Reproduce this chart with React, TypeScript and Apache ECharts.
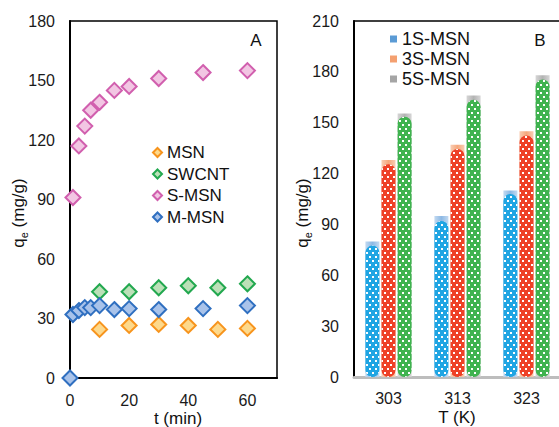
import React, { useEffect, useRef } from 'react';
import * as echarts from 'echarts';

// Panel A: adsorption kinetics
const tMSN = [10, 20, 30, 40, 50, 60];
const qMSN = [24.5, 26.5, 27, 26.5, 24.5, 25];
const tSWCNT = [10, 20, 30, 40, 50, 60];
const qSWCNT = [43.5, 43.5, 45.5, 46.5, 45.5, 47.5];
const tSMSN = [1, 3, 5, 7, 10, 15, 20, 30, 45, 60];
const qSMSN = [91, 117, 127, 135, 139, 145, 147, 151, 154, 155];
const tMMSN = [0, 1, 3, 5, 7, 10, 15, 20, 30, 45, 60];
const qMMSN = [0, 32, 34, 35.5, 35.5, 36.5, 34.5, 35, 34.5, 35, 36.5];

// Panel B: temperature effect
const temps = ['303', '313', '323'];
const outer1S = [80, 95, 110];
const outer3S = [128, 137, 145];
const outer5S = [155.5, 166, 178];
const inner1S = [77.5, 92, 108];
const inner3S = [125.5, 134.5, 142.5];
const inner5S = [153.5, 163.5, 175.5];

const FONT = 'Liberation Sans, Arial, sans-serif';

const zip = (xs: number[], ys: number[]) => xs.map((x, i) => [x, ys[i]]);

const grad = (edge: string, mid: string) =>
  new echarts.graphic.LinearGradient(0, 0, 1, 0, [
    { offset: 0, color: edge },
    { offset: 0.5, color: mid },
    { offset: 1, color: edge },
  ]);

const decal = {
  symbol: 'rect',
  symbolSize: 1,
  color: '#ffffff',
  dashArrayX: [[1.5, 3.5], [0, 2.5, 1.5, 1]],
  dashArrayY: [1.5, 1.6],
};

const axisNameRich = {
  a: { fontFamily: FONT, fontSize: 17, lineHeight: 22 },
  b: { fontFamily: FONT, fontSize: 11, lineHeight: 22, verticalAlign: 'bottom' },
};

export default function App() {
  const ref = useRef<HTMLDivElement>(null);
  useEffect(() => {
    if (!ref.current) return;
    const chart = echarts.init(ref.current, undefined, { renderer: 'svg' });
    const scatter = (name: string, data: number[][], border: string, fill: string) => ({
      name,
      type: 'scatter',
      xAxisIndex: 0,
      yAxisIndex: 0,
      symbol: 'diamond',
      symbolSize: 15,
      itemStyle: { color: fill, borderColor: border, borderWidth: 2, opacity: 1 },
      data,
    });
    const outerBar = (name: string, data: number[], edge: string, mid: string) => ({
      name,
      type: 'bar',
      xAxisIndex: 1,
      yAxisIndex: 1,
      barWidth: 14,
      barGap: '15%',
      itemStyle: { color: grad(edge, mid) },
      data,
    });
    const innerBar = (name: string, data: number[], color: string) => ({
      name,
      type: 'bar',
      xAxisIndex: 2,
      yAxisIndex: 1,
      barWidth: 14,
      barGap: '15%',
      itemStyle: { color, borderRadius: 7, decal },
      data,
    });
    const labelStyle = { fontFamily: FONT, fontSize: 16, color: '#1a1a1a' };
    chart.setOption({
      animation: false,
      backgroundColor: '#ffffff',
      textStyle: { fontFamily: FONT },
      grid: [
        { left: 70, top: 21, width: 207, height: 357, show: true, borderColor: '#000', borderWidth: 1.5 },
        { left: 354, top: 21, width: 207, height: 356, show: true, borderColor: '#000', borderWidth: 1.5 },
      ],
      xAxis: [
        {
          type: 'value', gridIndex: 0, min: 0, max: 70, interval: 20,
          axisLine: { show: true, onZero: false, lineStyle: { color: '#000', width: 2 } },
          axisTick: { show: false }, splitLine: { show: false },
          axisLabel: { ...labelStyle, margin: 14, showMaxLabel: false },
        },
        {
          type: 'category', gridIndex: 1, data: temps,
          axisLine: { show: true, lineStyle: { color: '#bdbdbd', width: 3 } },
          axisTick: { show: false },
          axisLabel: { ...labelStyle, margin: 13 },
        },
        { type: 'category', gridIndex: 1, data: temps, show: false },
      ],
      yAxis: [
        {
          type: 'value', gridIndex: 0, min: 0, max: 180, interval: 30,
          axisLine: { show: true, lineStyle: { color: '#000', width: 2 } },
          axisTick: { show: false }, splitLine: { show: false },
          axisLabel: { ...labelStyle, margin: 15 },
        },
        {
          type: 'value', gridIndex: 1, min: 0, max: 210, interval: 30,
          axisLine: { show: true, lineStyle: { color: '#000', width: 2 } },
          axisTick: { show: false }, splitLine: { show: false },
          axisLabel: { ...labelStyle, margin: 15 },
        },
      ],
      legend: [
        {
          orient: 'vertical', left: 152, top: 143, padding: 0, itemWidth: 9, itemHeight: 9, itemGap: 2.5,
          icon: 'diamond',
          textStyle: { fontFamily: FONT, fontSize: 17, color: '#111', lineHeight: 19 },
          data: ['MSN', 'SWCNT', 'S-MSN', 'M-MSN'],
        },
        {
          orient: 'vertical', left: 390, top: 30, padding: 0, itemWidth: 7, itemHeight: 7, itemGap: 2,
          icon: 'rect',
          textStyle: { fontFamily: FONT, fontSize: 18, color: '#111', lineHeight: 17 },
          data: [
            { name: '1S-MSN', itemStyle: { color: '#5b9bd5' } },
            { name: '3S-MSN', itemStyle: { color: '#f4a070' } },
            { name: '5S-MSN', itemStyle: { color: '#a5a5a5' } },
          ],
        },
      ],
      graphic: [
        { type: 'text', x: 256, y: 40, style: { text: 'A', fontFamily: FONT, fontSize: 17, fill: '#111', align: 'center', verticalAlign: 'middle' } },
        { type: 'text', x: 540, y: 40, style: { text: 'B', fontFamily: FONT, fontSize: 17, fill: '#111', align: 'center', verticalAlign: 'middle' } },
        {
          type: 'text', x: 18, y: 213, rotation: Math.PI / 2,
          style: { text: '{a|q}{b|e}{a| (mg/g)}', align: 'center', verticalAlign: 'middle', fill: '#111', rich: axisNameRich },
        },
        {
          type: 'text', x: 302, y: 213, rotation: Math.PI / 2,
          style: { text: '{a|q}{b|e}{a| (mg/g)}', align: 'center', verticalAlign: 'middle', fill: '#111', rich: axisNameRich },
        },
        { type: 'text', x: 178, y: 418, style: { text: 't (min)', fontFamily: FONT, fontSize: 17, fill: '#111', align: 'center', verticalAlign: 'middle' } },
        { type: 'text', x: 457, y: 417, style: { text: 'T (K)', fontFamily: FONT, fontSize: 17, fill: '#111', align: 'center', verticalAlign: 'middle' } },
      ],
      series: [
        scatter('MSN', zip(tMSN, qMSN), '#f7941d', '#fdd98c'),
        scatter('SWCNT', zip(tSWCNT, qSWCNT), '#22a84f', '#bce0b8'),
        scatter('S-MSN', zip(tSMSN, qSMSN), '#d15fae', '#f2c6e3'),
        scatter('M-MSN', zip(tMMSN, qMMSN), '#2f6fc0', '#a9c3ea'),
        outerBar('1S-MSN', outer1S, '#c3daf1', '#8cb8e4'),
        outerBar('3S-MSN', outer3S, '#f9cdb3', '#f5a77c'),
        outerBar('5S-MSN', outer5S, '#d6d6d6', '#b3b3b3'),
        innerBar('1S-MSN inner', inner1S, '#1fa5e3'),
        innerBar('3S-MSN inner', inner3S, '#ee4127'),
        innerBar('5S-MSN inner', inner5S, '#3fb34f'),
      ],
    });
    return () => chart.dispose();
  }, []);
  return (
    <div style={{ position: 'fixed', left: 0, top: 0, width: 559, height: 427, overflow: 'hidden', background: '#fff' }}>
      <div ref={ref} style={{ width: 570, height: 427 }} />
    </div>
  );
}
